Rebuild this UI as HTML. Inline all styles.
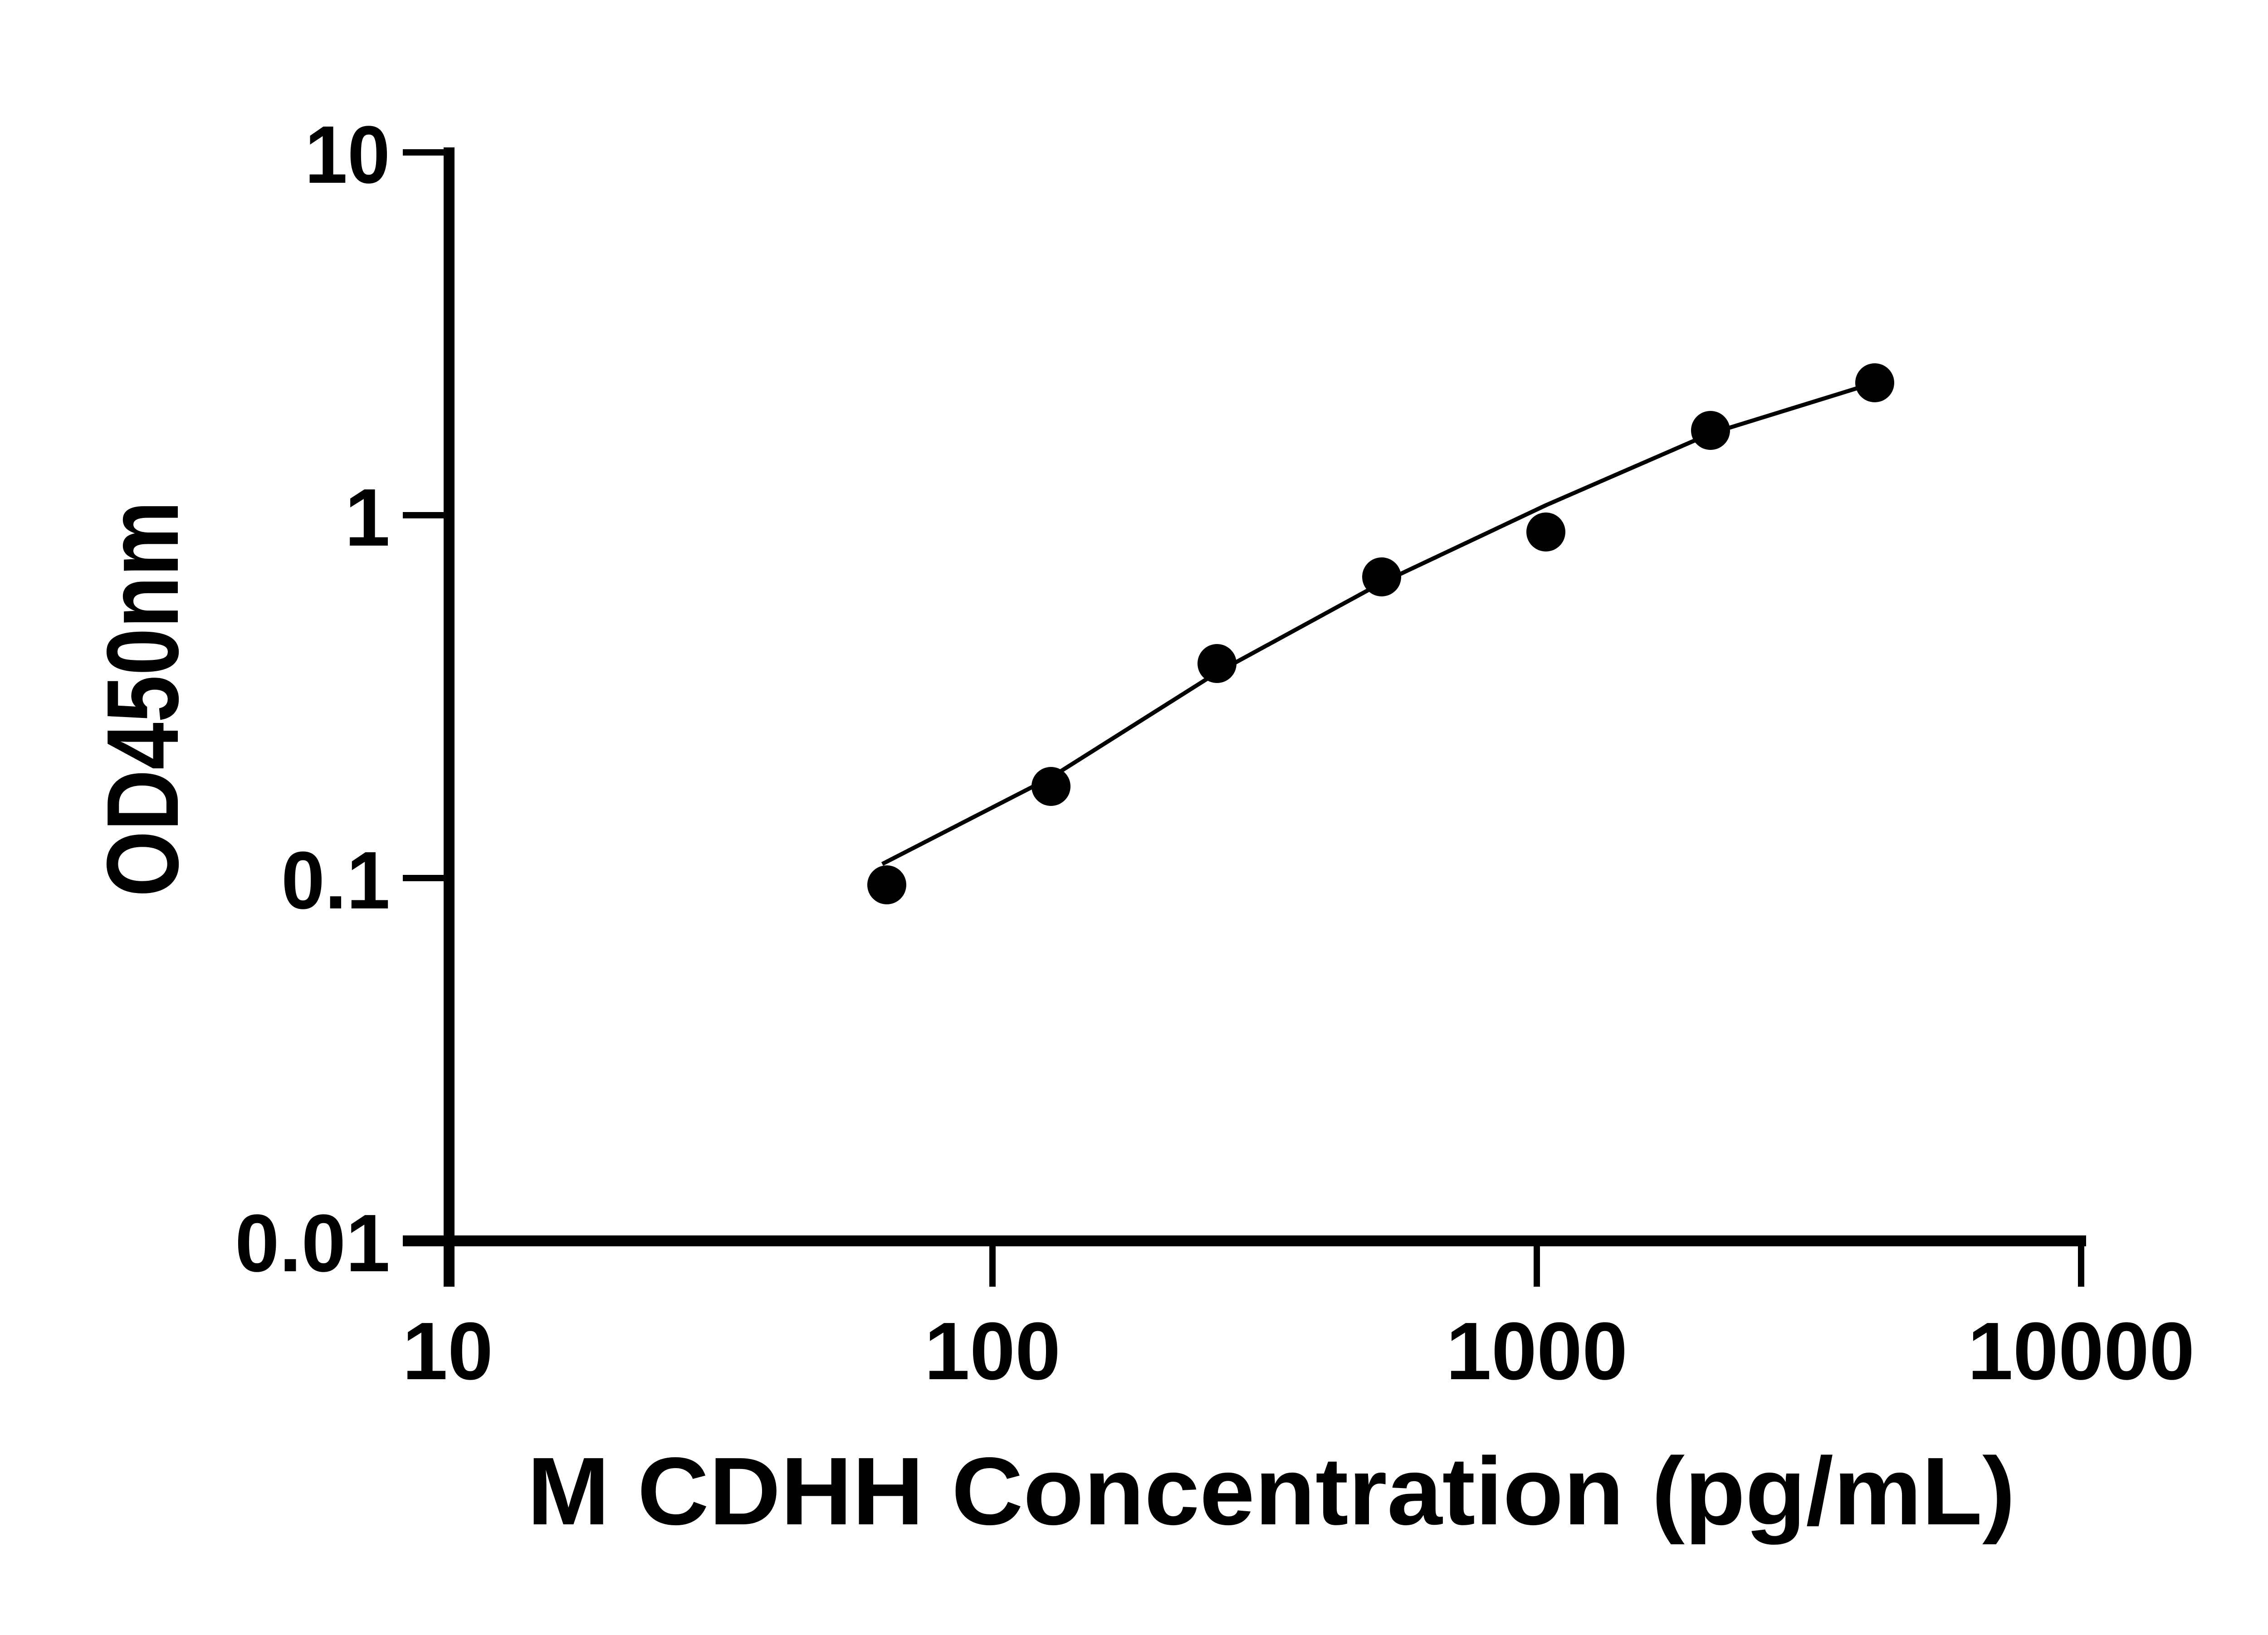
<!DOCTYPE html>
<html><head><style>html,body{margin:0;padding:0;background:#fff}</style></head>
<body>
<svg width="5142" height="3600" viewBox="0 0 5142 3600" xmlns="http://www.w3.org/2000/svg">
<g stroke="#000" fill="none" stroke-linecap="butt">
<line x1="990" y1="325" x2="990" y2="2837" stroke-width="24"/>
<line x1="888" y1="2736" x2="4599" y2="2736" stroke-width="24"/>
<line x1="888" y1="336" x2="990" y2="336" stroke-width="14"/>
<line x1="888" y1="1136" x2="990" y2="1136" stroke-width="14"/>
<line x1="888" y1="1936" x2="990" y2="1936" stroke-width="14"/>
<line x1="2188" y1="2736" x2="2188" y2="2837" stroke-width="14"/>
<line x1="3388" y1="2736" x2="3388" y2="2837" stroke-width="14"/>
<line x1="4588" y1="2736" x2="4588" y2="2837" stroke-width="14"/>
<polyline stroke-width="9" points="1945,1905 2317,1714 2683,1483 3046,1285 3408,1114 3771,956 4133,844"/>
</g>
<g fill="#000">
<circle cx="1955" cy="1951" r="43"/>
<circle cx="2317" cy="1734" r="43"/>
<circle cx="2683" cy="1463" r="43"/>
<circle cx="3046" cy="1272" r="43"/>
<circle cx="3408" cy="1173" r="43"/>
<circle cx="3771" cy="949" r="43"/>
<circle cx="4133" cy="844" r="43"/>
</g>
<g font-family="Liberation Sans, sans-serif" font-weight="bold" fill="#000">
<text x="860" y="403" font-size="180" text-anchor="end" textLength="188" lengthAdjust="spacingAndGlyphs">10</text>
<text x="860" y="1203" font-size="180" text-anchor="end">1</text>
<text x="860" y="2003" font-size="180" text-anchor="end" textLength="240" lengthAdjust="spacingAndGlyphs">0.1</text>
<text x="860" y="2803" font-size="180" text-anchor="end" textLength="342" lengthAdjust="spacingAndGlyphs">0.01</text>
<text x="987" y="3041" font-size="180" text-anchor="middle">10</text>
<text x="2188" y="3041" font-size="180" text-anchor="middle">100</text>
<text x="3388" y="3041" font-size="180" text-anchor="middle">1000</text>
<text x="4588" y="3041" font-size="180" text-anchor="middle">10000</text>
<text x="1162" y="3361" font-size="212" textLength="3281" lengthAdjust="spacingAndGlyphs">M CDHH Concentration (pg/mL)</text>
<text transform="translate(392,1541) rotate(-90)" font-size="225" text-anchor="middle" textLength="873" lengthAdjust="spacingAndGlyphs">OD450nm</text>
</g>
</svg>
</body></html>
